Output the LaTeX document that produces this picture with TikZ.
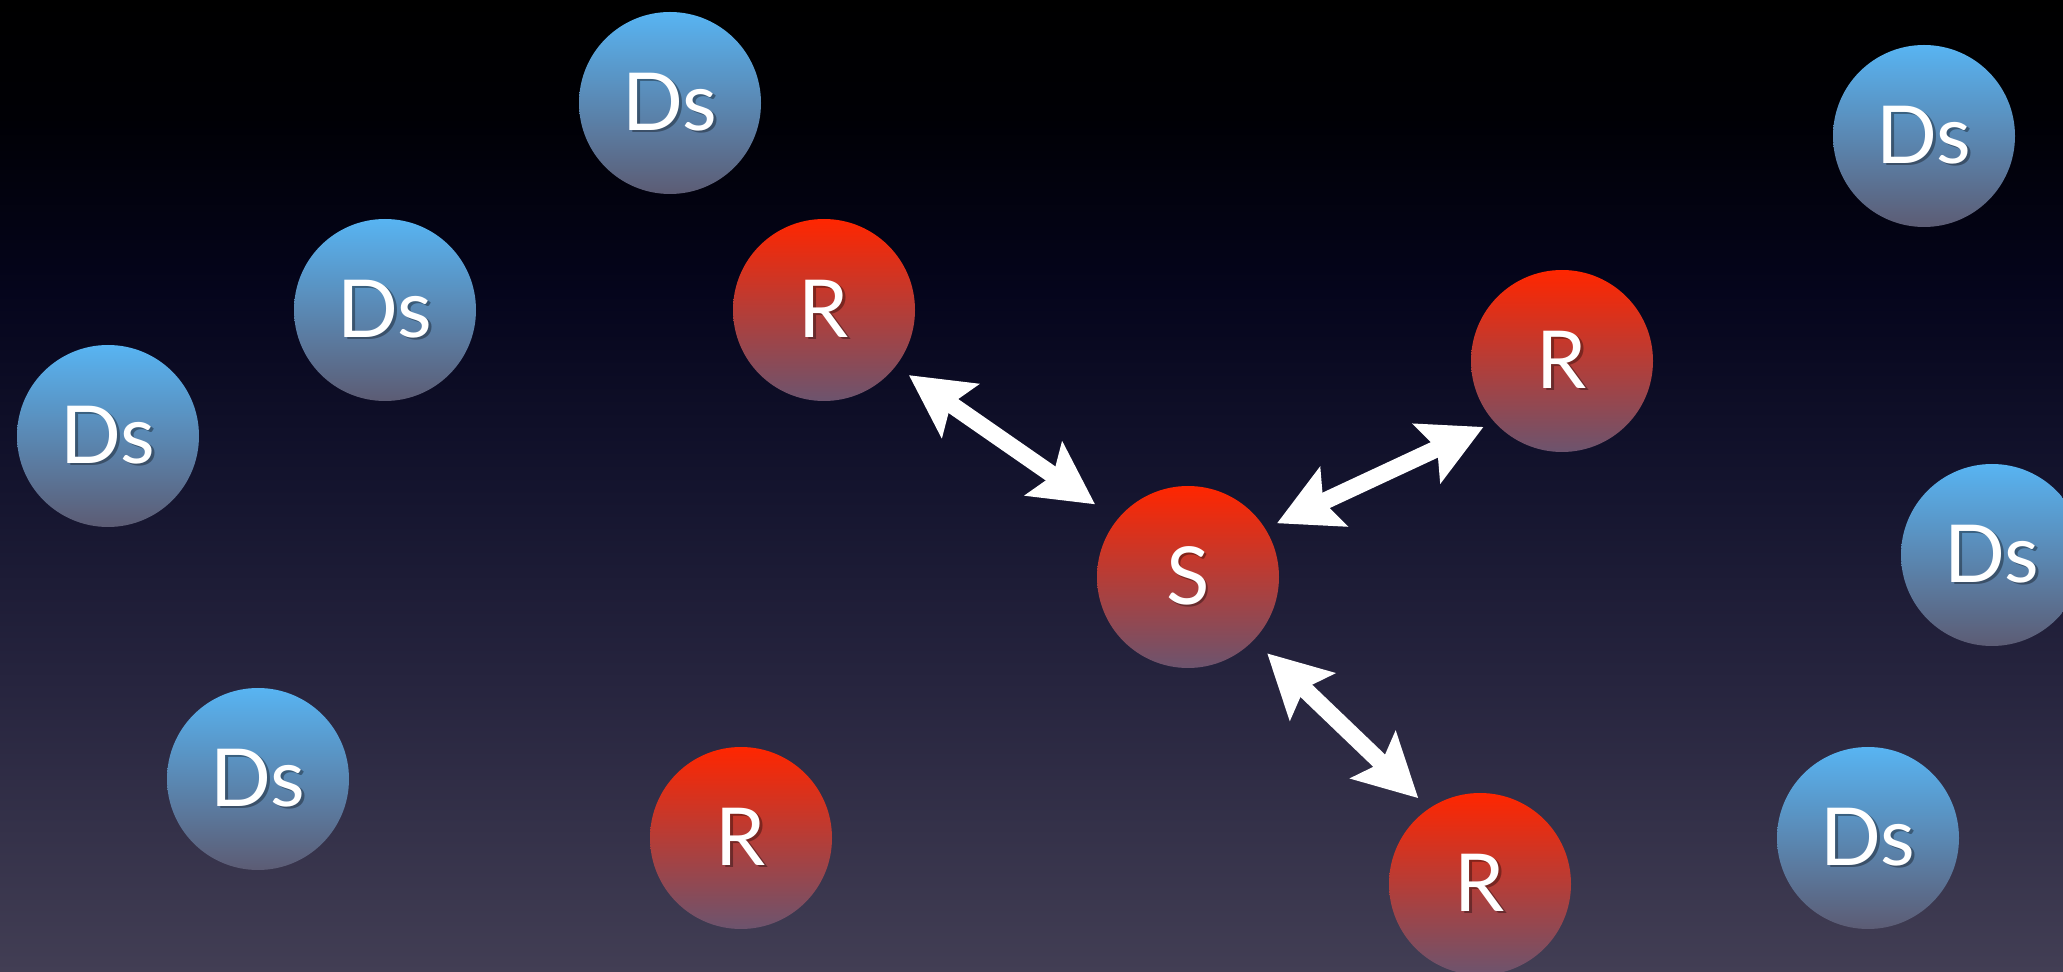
\documentclass[tikz,border=0pt]{standalone}
\usepackage{fontspec}
\setmainfont{Lato}
\usetikzlibrary{arrows.meta}
\definecolor{sky0}{RGB}{0,0,0}
\definecolor{sky1}{RGB}{0,0,5}
\definecolor{sky2}{RGB}{5,5,28}
\definecolor{sky3}{RGB}{20,20,46}
\definecolor{sky4}{RGB}{38,36,62}
\definecolor{sky5}{RGB}{66,62,84}
\pgfdeclareverticalshading{sky}{100bp}{color(0bp)=(sky5); color(25bp)=(sky5);
  color(40bp)=(sky4); color(50bp)=(sky3); color(60bp)=(sky2); color(69bp)=(sky1);
  color(75bp)=(sky0); color(100bp)=(sky0)}
\definecolor{dstop}{RGB}{88,180,242}
\definecolor{dsmid}{RGB}{78,142,196}
\definecolor{dsbot}{RGB}{92,92,116}
\definecolor{rtop}{RGB}{255,38,0}
\definecolor{rmid}{RGB}{192,48,54}
\definecolor{rbot}{RGB}{108,84,110}
\newcommand\lbl[1]{\makebox[0pt][l]{\kern1.3pt\raisebox{-1.3pt}{\pgfsetfillopacity{0.35}\color{black}#1\pgfsetfillopacity{1}}}#1}

\begin{document}
\begin{tikzpicture}[x=0.5pt, y=-0.5pt,
    ball/.style={circle, draw=none, minimum size=91pt, inner sep=0pt, outer sep=0pt,
                 text=white, font=\fontsize{40}{48}\selectfont},
    dsball/.style={ball, top color=dstop, middle color=dsmid, bottom color=dsbot},
    rball/.style={ball, top color=rtop, middle color=rmid, bottom color=rbot},
    ar/.style={{Stealth[length=31pt, width=32pt, inset=5.5pt]}-{Stealth[length=31pt, width=32pt, inset=5.5pt]},
               draw=white, line width=8.5pt}
]
\shade[shading=sky] (0,0) rectangle (2063,972);
\useasboundingbox (0,0) rectangle (2063,972);
% receivers and sender
\node[rball] (r1) at (824,310) {\lbl{R}};
\node[rball] (r2) at (1562,361) {\lbl{R}};
\node[rball] (r3) at (741,838) {\lbl{R}};
\node[rball] (r4) at (1480,884) {\lbl{R}};
\node[rball] (s) at (1188,577) {\lbl{S}};
% the Ds
\node[dsball] (ds1) at (670,103) {\lbl{Ds}};
\node[dsball] (ds2) at (385,310) {\lbl{Ds}};
\node[dsball] (ds3) at (108,436) {\lbl{Ds}};
\node[dsball] (ds4) at (258,779) {\lbl{Ds}};
\node[dsball] (ds5) at (1924,136) {\lbl{Ds}};
\node[dsball] (ds6) at (1992,555) {\lbl{Ds}};
\node[dsball] (ds7) at (1868,838) {\lbl{Ds}};
\draw[ar, shorten <=8pt, shorten >=13.5pt] (r1.322) -- (s.141);
\draw[ar, shorten <=6.5pt, shorten >=6pt] (s.32) -- (r2.222);
\draw[ar, shorten <=9.5pt, shorten >=7.5pt] (s.316) -- (r4.124);
\end{tikzpicture}
\end{document}
